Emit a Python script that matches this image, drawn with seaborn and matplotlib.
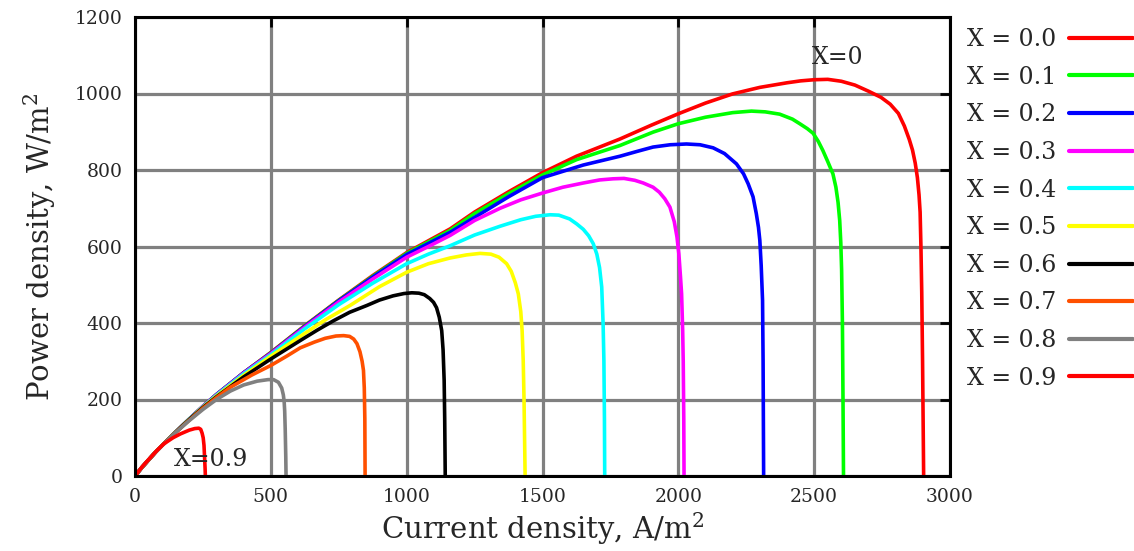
import numpy as np
import pandas as pd
import matplotlib
matplotlib.use("Agg")
import matplotlib.pyplot as plt
import seaborn as sns
from matplotlib.lines import Line2D

# ---- data (current density A/m2, power density W/m2) ----
labels = ["X = 0.0", "X = 0.1", "X = 0.2", "X = 0.3", "X = 0.4",
          "X = 0.5", "X = 0.6", "X = 0.7", "X = 0.8", "X = 0.9"]
colors = ["#ff0000", "#00ff00", "#0000ff", "#ff00ff", "#00ffff",
          "#ffff00", "#000000", "#ff5000", "#808080", "#ff0000"]

i_x00 = [0, 25, 50, 75, 100, 150, 200, 250, 300, 400, 500, 625, 750, 875, 1000, 1160, 1250, 1375, 1500, 1625,
         1785, 1900, 2000, 2100, 2200, 2300, 2400, 2450, 2500, 2550, 2600, 2650, 2700, 2746, 2780, 2810,
         2832, 2850, 2862, 2872, 2880, 2886, 2890, 2893, 2896, 2899, 2901, 2903]
p_x00 = [0, 22, 42, 62, 80, 115, 149, 182, 213, 270, 323, 393, 460, 524, 584, 646, 690, 743, 793, 836,
         881, 917, 947, 975, 999, 1016, 1028, 1033, 1036, 1037, 1032, 1022, 1006, 990, 972, 948,
         915, 880, 852, 818, 780, 735, 690, 600, 480, 300, 150, 0]

i_x01 = [0, 25, 50, 75, 100, 150, 200, 250, 300, 400, 500, 625, 750, 875, 1000, 1160, 1250, 1375, 1500, 1625,
         1785, 1907, 2000, 2100, 2200, 2269, 2320, 2373, 2420, 2447, 2475, 2496, 2515, 2532, 2550, 2569,
         2580, 2588, 2594, 2598, 2601, 2604, 2606, 2608]
p_x01 = [0, 22, 42, 62, 80, 115, 149, 182, 213, 270, 322, 392, 459, 522, 582, 642, 686, 738, 787, 827,
         864, 899, 921, 938, 950, 954, 952, 946, 933, 921, 908, 896, 875, 851, 822, 790,
         755, 715, 668, 610, 540, 400, 215, 0]

i_x02 = [0, 25, 50, 75, 100, 150, 200, 250, 300, 400, 500, 625, 750, 875, 1000, 1160, 1250, 1375, 1500, 1650,
         1785, 1850, 1907, 1970, 2030, 2080, 2128, 2170, 2214, 2240, 2257, 2275, 2287, 2295, 2300, 2305,
         2310, 2312, 2313, 2314]
p_x02 = [0, 22, 42, 62, 80, 115, 149, 182, 213, 270, 321, 391, 458, 520, 579, 637, 676, 730, 780, 813,
         836, 849, 860, 866, 868, 866, 858, 843, 816, 790, 764, 730, 686, 650, 616, 550,
         459, 300, 150, 0]

i_x03 = [0, 25, 50, 75, 100, 150, 200, 250, 300, 400, 500, 625, 750, 875, 1000, 1080, 1160, 1250, 1344, 1420,
         1501, 1575, 1650, 1710, 1760, 1800, 1840, 1871, 1907, 1930, 1950, 1969, 1985, 1995, 2002, 2008,
         2012, 2016, 2018, 2020, 2021]
p_x03 = [0, 22, 42, 62, 80, 115, 149, 182, 212, 269, 320, 389, 455, 515, 572, 600, 629, 668, 700, 722,
         740, 755, 766, 774, 777, 778, 773, 766, 755, 742, 725, 703, 665, 625, 580, 520,
         476, 380, 300, 150, 0]

i_x04 = [0, 25, 50, 75, 100, 150, 200, 250, 300, 400, 500, 625, 750, 875, 1000, 1080, 1160, 1250, 1344, 1420,
         1475, 1528, 1560, 1600, 1626, 1650, 1670, 1687, 1700, 1710, 1718, 1723, 1726, 1728, 1729]
p_x04 = [0, 22, 42, 62, 80, 115, 149, 181, 211, 267, 317, 385, 448, 504, 555, 580, 602, 630, 653, 670,
         679, 683, 682, 672, 659, 645, 628, 607, 580, 545, 494, 400, 302, 150, 0]

i_x05 = [0, 25, 50, 75, 100, 150, 200, 250, 300, 400, 500, 608, 700, 792, 900, 1001, 1080, 1160, 1220, 1270,
         1310, 1340, 1368, 1385, 1400, 1411, 1420, 1425, 1429, 1432, 1434, 1436]
p_x05 = [0, 22, 42, 62, 80, 115, 148, 180, 209, 263, 313, 365, 408, 446, 495, 533, 555, 570, 578, 582,
         580, 572, 555, 535, 505, 476, 430, 380, 302, 200, 100, 0]

i_x06 = [0, 25, 50, 75, 100, 150, 200, 250, 300, 400, 500, 608, 670, 731, 790, 854, 900, 950, 990, 1019,
         1045, 1065, 1085, 1099, 1110, 1120, 1129, 1134, 1138, 1140, 1142]
p_x06 = [0, 22, 42, 62, 80, 115, 148, 179, 207, 259, 306, 354, 381, 406, 428, 446, 460, 471, 477, 479,
         478, 474, 464, 454, 440, 415, 380, 330, 250, 150, 0]

i_x07 = [0, 25, 50, 75, 100, 150, 200, 250, 300, 351, 430, 500, 560, 608, 660, 700, 740, 768, 790, 805,
         817, 828, 836, 841, 844, 846, 847]
p_x07 = [0, 22, 42, 62, 80, 114, 146, 177, 205, 232, 264, 289, 314, 335, 350, 360, 366, 367, 365, 358,
         346, 325, 300, 276, 230, 150, 0]

i_x08 = [0, 25, 50, 75, 100, 150, 200, 250, 300, 351, 400, 450, 490, 510, 528, 540, 546, 549, 551, 553,
         555, 556]
p_x08 = [0, 22, 42, 62, 80, 114, 145, 174, 200, 222, 238, 248, 252, 252, 245, 230, 212, 195, 170, 120,
         50, 0]

i_x09 = [0, 25, 50, 80, 106, 140, 167, 200, 220, 235, 242, 247, 251, 254, 256, 258, 259]
p_x09 = [0, 23, 43, 66, 84, 100, 110, 120, 124, 125, 122, 112, 100, 80, 50, 20, 0]

x_ticks = [0, 500, 1000, 1500, 2000, 2500, 3000]
y_ticks = [0, 200, 400, 600, 800, 1000, 1200]

series_i = [i_x00, i_x01, i_x02, i_x03, i_x04, i_x05, i_x06, i_x07, i_x08, i_x09]
series_p = [p_x00, p_x01, p_x02, p_x03, p_x04, p_x05, p_x06, p_x07, p_x08, p_x09]

frames = []
for lab, xi, pi in zip(labels, series_i, series_p):
    frames.append(pd.DataFrame({"current": xi, "power": pi, "series": lab}))
df = pd.concat(frames, ignore_index=True)

# ---- style ----
sns.set_theme(style="white")
serif = "DejaVu Serif"
plt.rcParams["font.family"] = [serif]
plt.rcParams["mathtext.fontset"] = "dejavuserif"

fig = plt.figure(figsize=(11.34, 5.51), dpi=100)
ax = fig.add_axes([135 / 1134, 1 - 476 / 551, (950 - 135) / 1134, (476 - 17) / 551])

palette = dict(zip(labels, colors))
sns.lineplot(data=df, x="current", y="power", hue="series", hue_order=labels,
             palette=palette, sort=False, estimator=None, units="series",
             linewidth=2.6, ax=ax, legend=False, zorder=3)

ax.set_xlim(0, 3000)
ax.set_ylim(0, 1200)
ax.set_xticks(x_ticks)
ax.set_yticks(y_ticks)
ax.set_xticklabels([str(v) for v in x_ticks])
ax.set_yticklabels([str(v) for v in y_ticks])
ax.grid(True, color="#808080", linewidth=2.3, zorder=1)
ax.set_axisbelow(True)
for s in ax.spines.values():
    s.set_color("black")
    s.set_linewidth(2.2)
    s.set_zorder(5)
ax.tick_params(axis="both", which="major", direction="in", length=7, width=2,
               color="black", labelsize=13.5, top=True, right=True, pad=9)

ax.set_xlabel("Current density, A/m$^2$", fontsize=21, labelpad=3)
ax.set_ylabel("Power density, W/m$^2$", fontsize=21, labelpad=12)

ax.text(2586, 1094, "X=0", fontsize=17, ha="center", va="center", zorder=6)
ax.text(281, 42, "X=0.9", fontsize=17, ha="center", va="center", zorder=6)

handles = [Line2D([0], [0], color=c, linewidth=3) for c in colors]
leg = fig.legend(handles, labels, loc="upper left", bbox_to_anchor=(967 / 1134, 1 - 28 / 551),
                 frameon=False, markerfirst=False, fontsize=17, handlelength=2.7,
                 handletextpad=0.55, labelspacing=0.62, borderpad=0, borderaxespad=0)

fig.savefig("out.png", dpi=100)
